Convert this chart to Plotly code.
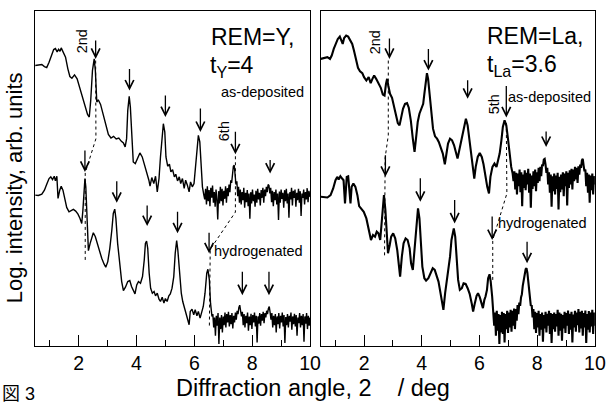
import plotly.graph_objects as go

# ---------------- REM = Y, t_Y = 4  (2-theta in deg, log intensity in arb. units) ----------------
Y_ASDEP = [
    (0.50, 8.43), (0.61, 8.45), (0.73, 8.46), (0.82, 8.40), (0.90, 8.37), (0.98, 8.53), (1.07, 8.78),
    (1.14, 8.91), (1.20, 8.94), (1.26, 8.84), (1.31, 8.92), (1.36, 8.86), (1.40, 8.96), (1.47, 8.83),
    (1.55, 8.68), (1.63, 8.33), (1.70, 8.10), (1.77, 8.05), (1.86, 8.15), (1.95, 8.03), (2.04, 7.78),
    (2.14, 7.46), (2.23, 7.18), (2.31, 6.96), (2.37, 6.88), (2.42, 7.38), (2.48, 8.28), (2.54, 8.63),
    (2.58, 8.28), (2.63, 7.33), (2.68, 7.40), (2.76, 7.26), (2.85, 6.96), (2.94, 6.63), (3.03, 6.36),
    (3.12, 6.25), (3.21, 6.30), (3.30, 6.22), (3.39, 6.25), (3.48, 6.15), (3.55, 6.10), (3.61, 5.98),
    (3.66, 6.23), (3.70, 7.08), (3.75, 7.50), (3.79, 7.18), (3.84, 6.08), (3.89, 5.53), (3.96, 5.48),
    (4.03, 5.63), (4.12, 5.80), (4.20, 5.68), (4.28, 5.46), (4.36, 5.18), (4.43, 4.98), (4.47, 4.80),
    (4.53, 5.06), (4.60, 4.88), (4.66, 5.10), (4.72, 4.63), (4.78, 5.03), (4.83, 5.68), (4.89, 6.48),
    (4.93, 6.68), (4.98, 6.43), (5.02, 5.68), (5.08, 5.40), (5.14, 5.46), (5.19, 5.23), (5.25, 5.30),
    (5.31, 5.08), (5.36, 5.16), (5.42, 4.96), (5.48, 5.08), (5.53, 4.88), (5.59, 5.03), (5.65, 4.73),
    (5.70, 4.98), (5.76, 4.83), (5.82, 4.63), (5.87, 4.93), (5.93, 4.78), (5.99, 4.88), (6.03, 5.28),
    (6.09, 5.88), (6.14, 6.33), (6.19, 6.13), (6.23, 5.38), (6.28, 4.78), (6.33, 4.53),
    (6.36, 4.40), (6.39, 4.72), (6.42, 4.25), (6.45, 4.80), (6.48, 4.35), (6.51, 4.68), (6.54, 4.20),
    (6.57, 4.75), (6.60, 4.45), (6.63, 4.82), (6.66, 4.30), (6.69, 4.62), (6.72, 4.18), (6.75, 4.70),
    (6.78, 4.40), (6.81, 3.80), (6.84, 4.65), (6.87, 4.28), (6.90, 4.78), (6.93, 4.35), (6.96, 4.72),
    (6.99, 4.22), (7.02, 4.66), (7.05, 4.42), (7.08, 4.80), (7.11, 4.30), (7.14, 4.74), (7.17, 4.50),
    (7.20, 4.85), (7.23, 4.62), (7.26, 4.98), (7.29, 4.90), (7.32, 5.22), (7.35, 5.40), (7.38, 5.43),
    (7.41, 5.18), (7.44, 4.85), (7.47, 4.95), (7.50, 4.50), (7.53, 4.78), (7.56, 4.30), (7.59, 4.70),
    (7.62, 4.25), (7.65, 4.62), (7.68, 4.38), (7.71, 4.75), (7.74, 4.15), (7.77, 4.60), (7.80, 4.32),
    (7.83, 4.68), (7.86, 4.20), (7.89, 4.58), (7.92, 3.82), (7.95, 4.62), (7.98, 4.28), (8.01, 4.70),
    (8.04, 4.35), (8.07, 4.55), (8.10, 4.18), (8.13, 4.66), (8.16, 4.30), (8.19, 4.72), (8.22, 4.40),
    (8.25, 4.60), (8.28, 4.22), (8.31, 4.68), (8.34, 4.45), (8.37, 4.75), (8.40, 4.30), (8.43, 4.70),
    (8.46, 4.50), (8.49, 4.78), (8.52, 4.62), (8.55, 4.85), (8.58, 4.82), (8.61, 4.58), (8.64, 4.75),
    (8.67, 4.32), (8.70, 4.66), (8.73, 4.20), (8.76, 4.62), (8.79, 4.38), (8.82, 4.70), (8.85, 4.25),
    (8.88, 4.58), (8.91, 3.78), (8.94, 4.64), (8.97, 4.30), (9.00, 4.70), (9.03, 4.42), (9.06, 4.60),
    (9.09, 4.15), (9.12, 4.68), (9.15, 4.35), (9.18, 4.72), (9.21, 4.28), (9.24, 4.58), (9.27, 3.85),
    (9.30, 4.62), (9.33, 4.40), (9.36, 4.75), (9.39, 4.22), (9.42, 4.66), (9.45, 4.45), (9.48, 4.70),
    (9.51, 4.18), (9.54, 4.60), (9.57, 4.38), (9.60, 4.72), (9.63, 4.30), (9.66, 4.65), (9.69, 3.90),
    (9.72, 4.58), (9.75, 4.45), (9.78, 4.70), (9.81, 4.25), (9.84, 4.62), (9.87, 4.40), (9.90, 4.74),
    (9.93, 4.32), (9.96, 4.66), (10.00, 4.48),
]

Y_HYDRO = [
    (0.50, 4.53), (0.61, 4.52), (0.73, 4.56), (0.82, 4.68), (0.90, 4.86), (0.98, 5.03), (1.04, 5.08),
    (1.10, 5.00), (1.16, 5.10), (1.20, 4.96), (1.25, 5.10), (1.29, 4.43), (1.35, 4.68), (1.40, 4.80),
    (1.46, 4.68), (1.52, 4.38), (1.59, 4.16), (1.67, 4.03), (1.74, 4.06), (1.82, 4.10), (1.90, 4.05),
    (1.98, 3.96), (2.05, 3.83), (2.11, 3.68), (2.15, 4.08), (2.19, 4.68), (2.22, 5.03), (2.25, 4.78),
    (2.30, 3.58), (2.34, 2.86), (2.40, 3.08), (2.46, 3.30), (2.51, 3.40), (2.58, 3.28), (2.65, 3.08),
    (2.72, 2.83), (2.80, 2.63), (2.88, 2.46), (2.94, 2.36), (3.01, 2.53), (3.08, 2.93), (3.15, 3.48),
    (3.20, 3.98), (3.25, 4.11), (3.29, 3.83), (3.35, 3.08), (3.42, 2.38), (3.49, 1.93), (3.55, 1.66),
    (3.62, 1.76), (3.70, 1.93), (3.77, 1.96), (3.83, 1.78), (3.89, 1.68), (3.95, 1.56), (4.01, 1.83),
    (4.07, 1.93), (4.14, 1.88), (4.21, 2.08), (4.27, 2.58), (4.31, 3.08), (4.35, 3.15), (4.39, 2.93),
    (4.44, 2.18), (4.49, 1.73), (4.55, 1.58), (4.61, 1.63), (4.66, 1.50), (4.72, 1.58), (4.78, 1.40),
    (4.83, 1.33), (4.89, 1.46), (4.95, 1.28), (5.00, 1.42), (5.06, 1.33), (5.12, 1.50), (5.17, 1.56),
    (5.23, 1.73), (5.29, 2.08), (5.34, 2.78), (5.39, 3.16), (5.43, 2.88), (5.49, 2.18), (5.55, 1.58),
    (5.60, 1.33), (5.66, 1.13), (5.71, 1.03), (5.77, 0.78), (5.82, 0.63), (5.86, 1.03), (5.92, 1.10),
    (5.98, 0.93), (6.03, 1.08), (6.09, 0.90), (6.14, 1.03), (6.20, 0.83), (6.26, 1.03), (6.31, 1.18),
    (6.37, 1.58), (6.43, 2.18), (6.47, 2.30), (6.52, 1.98), (6.56, 1.28), (6.61, 0.88),
    (6.64, 0.95), (6.67, 0.55), (6.70, 0.85), (6.73, 0.30), (6.76, 0.90), (6.79, 0.60), (6.82, 0.98),
    (6.85, 0.05), (6.88, 0.85), (6.91, 0.50), (6.94, 0.92), (6.97, 0.40), (7.00, 0.88), (7.03, 0.62),
    (7.06, 1.00), (7.09, 0.55), (7.12, 0.95), (7.15, 0.70), (7.18, 1.02), (7.21, 0.58), (7.24, 0.92),
    (7.27, 0.65), (7.30, 0.98), (7.33, 0.52), (7.36, 0.90), (7.39, 0.70), (7.42, 1.00), (7.45, 0.78),
    (7.48, 1.05), (7.51, 0.95), (7.54, 1.15), (7.57, 1.22), (7.60, 1.05), (7.63, 0.88), (7.66, 1.02),
    (7.69, 0.62), (7.72, 0.95), (7.75, 0.55), (7.78, 0.90), (7.81, 0.68), (7.84, 1.00), (7.87, 0.45),
    (7.90, 0.88), (7.93, 0.62), (7.96, 0.96), (7.99, 0.50), (8.02, 0.92), (8.05, 0.70), (8.08, 1.00),
    (8.11, 0.58), (8.14, 0.90), (8.17, 0.10), (8.20, 0.88), (8.23, 0.66), (8.26, 0.98), (8.29, 0.60),
    (8.32, 0.95), (8.35, 0.75), (8.38, 1.02), (8.41, 0.68), (8.44, 0.98), (8.47, 0.85), (8.50, 1.05),
    (8.53, 0.95), (8.56, 1.12), (8.59, 1.18), (8.62, 1.00), (8.65, 0.78), (8.68, 0.98), (8.71, 0.55),
    (8.74, 0.90), (8.77, 0.62), (8.80, 0.95), (8.83, 0.40), (8.86, 0.88), (8.89, 0.65), (8.92, 0.98),
    (8.95, 0.52), (8.98, 0.90), (9.01, 0.70), (9.04, 1.00), (9.07, 0.58), (9.10, 0.92), (9.13, 0.08),
    (9.16, 0.86), (9.19, 0.62), (9.22, 0.95), (9.25, 0.55), (9.28, 0.90), (9.31, 0.72), (9.34, 1.00),
    (9.37, 0.48), (9.40, 0.88), (9.43, 0.65), (9.46, 0.96), (9.49, 0.58), (9.52, 0.92), (9.55, 0.30),
    (9.58, 0.85), (9.61, 0.68), (9.64, 0.98), (9.67, 0.55), (9.70, 0.90), (9.73, 0.62), (9.76, 0.95),
    (9.79, 0.12), (9.82, 0.88), (9.85, 0.66), (9.88, 0.98), (9.91, 0.50), (9.94, 0.90), (9.97, 0.60),
    (10.00, 0.85),
]

# ---------------- REM = La, t_La = 3.6 ----------------
LA_ASDEP = [
    (0.50, 8.63), (0.61, 8.65), (0.73, 8.68), (0.82, 8.63), (0.88, 8.73), (0.95, 8.93), (1.02, 9.10),
    (1.09, 9.23), (1.16, 9.30), (1.21, 9.18), (1.26, 9.08), (1.31, 9.26), (1.38, 9.33), (1.45, 9.30),
    (1.52, 9.20), (1.59, 9.08), (1.65, 8.88), (1.72, 8.63), (1.79, 8.36), (1.86, 8.26), (1.94, 8.20),
    (2.00, 8.08), (2.08, 7.98), (2.16, 8.08), (2.23, 7.90), (2.29, 8.03), (2.35, 8.13), (2.42, 8.03),
    (2.50, 7.90), (2.58, 7.76), (2.65, 7.56), (2.71, 7.53), (2.76, 7.88), (2.80, 8.03), (2.84, 7.83),
    (2.90, 7.58), (2.97, 7.46), (3.03, 7.23), (3.10, 6.96), (3.17, 6.70), (3.23, 6.63), (3.28, 6.88),
    (3.35, 7.13), (3.42, 7.28), (3.49, 7.30), (3.55, 7.16), (3.62, 6.78), (3.69, 6.23), (3.75, 5.83),
    (3.80, 6.23), (3.86, 6.73), (3.92, 6.98), (3.98, 7.13), (4.05, 7.28), (4.09, 7.58), (4.14, 8.03),
    (4.18, 8.20), (4.22, 8.03), (4.27, 7.58), (4.32, 6.93), (4.39, 6.53), (4.46, 6.30), (4.53, 6.23),
    (4.59, 6.13), (4.66, 5.98), (4.73, 5.78), (4.80, 5.46), (4.86, 5.88), (4.91, 6.08), (4.98, 6.23),
    (5.05, 6.18), (5.12, 6.03), (5.18, 5.78), (5.24, 5.63), (5.30, 5.88), (5.36, 6.13), (5.42, 6.48),
    (5.48, 6.73), (5.53, 6.83), (5.59, 6.63), (5.65, 6.23), (5.70, 5.78), (5.76, 5.33), (5.82, 5.03),
    (5.87, 5.38), (5.94, 5.68), (6.01, 5.80), (6.08, 5.68), (6.14, 5.46), (6.21, 5.08), (6.27, 4.78),
    (6.33, 4.58), (6.38, 5.08), (6.45, 5.38), (6.52, 5.48), (6.59, 5.38), (6.64, 5.53), (6.70, 5.78),
    (6.76, 6.18), (6.81, 6.58), (6.87, 6.78), (6.93, 6.63), (6.98, 6.28), (7.04, 5.78), (7.10, 5.38),
    (7.15, 5.18),
    (7.18, 4.95), (7.21, 5.25), (7.24, 4.70), (7.27, 5.20), (7.30, 4.55), (7.33, 5.18), (7.36, 4.80),
    (7.39, 5.30), (7.42, 4.62), (7.45, 5.22), (7.48, 4.20), (7.51, 5.15), (7.54, 4.75), (7.57, 5.28),
    (7.60, 4.68), (7.63, 5.20), (7.66, 4.85), (7.69, 5.32), (7.72, 4.60), (7.75, 5.18), (7.78, 4.15),
    (7.81, 5.12), (7.84, 4.72), (7.87, 5.25), (7.90, 4.80), (7.93, 5.30), (7.96, 4.65), (7.99, 5.22),
    (8.02, 4.90), (8.05, 5.35), (8.08, 4.95), (8.11, 5.38), (8.14, 5.10), (8.17, 5.45), (8.20, 5.40),
    (8.23, 5.60), (8.26, 5.62), (8.29, 5.45), (8.32, 5.20), (8.35, 5.35), (8.38, 4.85), (8.41, 5.22),
    (8.44, 4.60), (8.47, 5.15), (8.50, 4.18), (8.53, 5.10), (8.56, 4.65), (8.59, 5.18), (8.62, 4.55),
    (8.65, 5.12), (8.68, 4.72), (8.71, 5.20), (8.74, 4.10), (8.77, 5.08), (8.80, 4.62), (8.83, 5.15),
    (8.86, 4.70), (8.89, 5.22), (8.92, 4.50), (8.95, 5.18), (8.98, 4.80), (9.01, 5.25), (9.04, 4.22),
    (9.07, 5.20), (9.10, 4.75), (9.13, 5.28), (9.16, 4.85), (9.19, 5.32), (9.22, 4.70), (9.25, 5.30),
    (9.28, 4.95), (9.31, 5.38), (9.34, 5.00), (9.37, 5.35), (9.40, 4.90), (9.43, 5.40), (9.46, 5.15),
    (9.49, 5.45), (9.52, 5.35), (9.55, 5.58), (9.58, 5.62), (9.61, 5.42), (9.64, 5.25), (9.67, 5.30),
    (9.70, 4.80), (9.73, 5.20), (9.76, 4.60), (9.79, 5.15), (9.82, 4.30), (9.85, 5.12), (9.88, 4.68),
    (9.91, 5.18), (9.94, 4.55), (9.97, 5.10), (10.00, 4.85),
]

LA_HYDRO = [
    (0.50, 4.48), (0.61, 4.48), (0.73, 4.46), (0.84, 4.53), (0.93, 4.73), (1.01, 4.98), (1.07, 5.08),
    (1.12, 5.00), (1.18, 5.10), (1.24, 5.03), (1.29, 4.98), (1.34, 4.28), (1.37, 4.68), (1.40, 5.08),
    (1.45, 5.10), (1.50, 4.68), (1.53, 4.28), (1.57, 4.78), (1.63, 4.88), (1.70, 4.78), (1.77, 4.53),
    (1.83, 4.20), (1.91, 4.10), (1.99, 4.03), (2.08, 3.83), (2.16, 3.53), (2.24, 3.18), (2.31, 3.33),
    (2.38, 3.28), (2.44, 3.43), (2.50, 3.38), (2.56, 3.18), (2.62, 3.78), (2.66, 4.43), (2.69, 4.53),
    (2.74, 4.08), (2.79, 3.28), (2.83, 2.78), (2.89, 3.03), (2.94, 3.28), (3.01, 3.38), (3.08, 3.23),
    (3.15, 2.88), (3.20, 2.38), (3.25, 2.08), (3.31, 2.68), (3.37, 3.08), (3.44, 3.23), (3.51, 3.18),
    (3.58, 2.93), (3.63, 2.48), (3.69, 2.28), (3.75, 2.88), (3.79, 3.48), (3.84, 4.03), (3.87, 4.13),
    (3.92, 3.83), (3.96, 3.08), (4.02, 2.38), (4.09, 2.03), (4.15, 1.96), (4.23, 2.03), (4.31, 2.18),
    (4.38, 2.33), (4.45, 2.28), (4.52, 2.10), (4.58, 1.93), (4.65, 1.58), (4.71, 1.23), (4.75, 1.08),
    (4.81, 1.58), (4.87, 1.93), (4.92, 2.28), (4.98, 2.68), (5.03, 3.18), (5.08, 3.48), (5.11, 3.53),
    (5.16, 3.28), (5.20, 2.58), (5.26, 1.98), (5.32, 1.68), (5.39, 1.73), (5.45, 1.88), (5.52, 1.86),
    (5.59, 1.73), (5.66, 1.56), (5.73, 1.28), (5.78, 1.03), (5.84, 1.28), (5.90, 1.50), (5.95, 1.58),
    (6.01, 1.46), (6.07, 1.28), (6.12, 1.13), (6.17, 1.38), (6.21, 1.48), (6.26, 1.68), (6.30, 2.03),
    (6.35, 2.15), (6.39, 1.93), (6.44, 1.48), (6.48, 1.08),
    (6.51, 0.60), (6.54, 1.00), (6.57, 0.30), (6.60, 1.05), (6.63, 0.45), (6.66, 0.95), (6.69, 0.05),
    (6.72, 0.92), (6.75, 0.40), (6.78, 1.02), (6.81, 0.35), (6.84, 0.98), (6.87, 0.10), (6.90, 0.95),
    (6.93, 0.50), (6.96, 1.05), (6.99, 0.38), (7.02, 1.00), (7.05, 0.55), (7.08, 1.08), (7.11, 0.42),
    (7.14, 1.05), (7.17, 0.60), (7.20, 1.12), (7.23, 0.50), (7.26, 1.10), (7.29, 0.75), (7.32, 1.22),
    (7.35, 0.95), (7.38, 1.30), (7.41, 1.20), (7.44, 1.45), (7.47, 1.55), (7.50, 1.80), (7.53, 1.95),
    (7.56, 2.15), (7.60, 2.30), (7.63, 2.33), (7.66, 2.20), (7.69, 1.95), (7.72, 1.65), (7.75, 1.45),
    (7.78, 1.20), (7.81, 1.22), (7.84, 0.85), (7.87, 1.10), (7.90, 0.50), (7.93, 1.02), (7.96, 0.38),
    (7.99, 0.98), (8.02, 0.55), (8.05, 1.05), (8.08, 0.30), (8.11, 0.95), (8.14, 0.48), (8.17, 1.00),
    (8.20, 0.12), (8.23, 0.92), (8.26, 0.52), (8.29, 1.02), (8.32, 0.40), (8.35, 0.96), (8.38, 0.60),
    (8.41, 1.05), (8.44, 0.35), (8.47, 0.98), (8.50, 0.08), (8.53, 0.95), (8.56, 0.50), (8.59, 1.00),
    (8.62, 0.42), (8.65, 0.95), (8.68, 0.58), (8.71, 1.08), (8.74, 0.30), (8.77, 1.00), (8.80, 0.45),
    (8.83, 0.96), (8.86, 0.15), (8.89, 0.92), (8.92, 0.52), (8.95, 1.02), (8.98, 0.38), (9.01, 0.98),
    (9.04, 0.60), (9.07, 1.06), (9.10, 0.35), (9.13, 0.96), (9.16, 0.48), (9.19, 1.02), (9.22, 0.10),
    (9.25, 0.94), (9.28, 0.55), (9.31, 1.05), (9.34, 0.42), (9.37, 1.00), (9.40, 0.62), (9.43, 1.10),
    (9.46, 0.40), (9.49, 1.02), (9.52, 0.52), (9.55, 1.05), (9.58, 0.30), (9.61, 0.98), (9.64, 0.55),
    (9.67, 1.06), (9.70, 0.08), (9.73, 0.95), (9.76, 0.48), (9.79, 1.04), (9.82, 0.40), (9.85, 1.00),
    (9.88, 0.58), (9.91, 1.08), (9.94, 0.35), (9.97, 1.00), (10.00, 0.60),
]

# Superlattice reflections: angle (deg) and level of the arrow tip
Y_ASDEP_REFL_X = [2.59, 3.76, 5.00, 6.21, 7.42, 8.62]
Y_ASDEP_REFL_Y = [8.63, 7.68, 6.88, 6.43, 5.76, 5.18]
Y_HYDRO_REFL_X = [2.22, 3.32, 4.37, 5.42, 6.51, 7.66, 8.58]
Y_HYDRO_REFL_Y = [5.23, 4.30, 3.60, 3.38, 2.78, 1.52, 1.52]
LA_ASDEP_REFL_X = [2.88, 4.23, 5.59, 6.93, 8.31]
LA_ASDEP_REFL_Y = [8.63, 8.28, 7.43, 6.87, 5.98]
LA_HYDRO_REFL_X = [2.74, 3.95, 5.14, 6.44, 7.65]
LA_HYDRO_REFL_Y = [5.08, 4.33, 3.68, 3.18, 2.48]

# Dotted guides linking the same reflection order before/after hydrogenation
Y_ORDER2_GUIDE = [(2.59, 8.58), (2.60, 6.23), (2.23, 5.20), (2.23, 2.58)]
Y_ORDER6_GUIDE = [(7.42, 5.70), (7.42, 4.02), (6.55, 2.90), (6.52, 0.57)]
LA_ORDER2_GUIDE = [(2.84, 8.58), (2.84, 6.33), (2.73, 5.65), (2.71, 2.64)]
LA_ORDER5_GUIDE = [(6.93, 6.70), (6.95, 4.58), (6.46, 3.18), (6.46, 1.98)]

X_MAJOR = [2, 4, 6, 8, 10]
X_MINOR = [1, 3, 5, 7, 9]

# arrow shaft lengths in px
Y_ASDEP_ARROW_LEN = [20, 23, 23, 25, 24, 15]
Y_HYDRO_ARROW_LEN = [23, 23, 22, 23, 22, 25, 25]
LA_ASDEP_ARROW_LEN = [22, 23, 20, 33, 17]
LA_HYDRO_ARROW_LEN = [23, 25, 25, 25, 23]

FONT = "Liberation Sans, Arial, sans-serif"
BLACK = "#000000"

fig = go.Figure()


def add_curve(points, xa, ya, width):
    xs, ys = zip(*points)
    fig.add_trace(go.Scatter(x=xs, y=ys, mode="lines", xaxis=xa, yaxis=ya,
                             line=dict(color=BLACK, width=width), hoverinfo="skip"))


def add_guide(points, xa, ya):
    xs, ys = zip(*points)
    fig.add_trace(go.Scatter(x=xs, y=ys, mode="lines", xaxis=xa, yaxis=ya,
                             line=dict(color=BLACK, width=1, dash="dot"), hoverinfo="skip"))


add_curve(Y_ASDEP, "x", "y", 1.4)
add_curve(Y_HYDRO, "x", "y", 1.4)
add_curve(LA_ASDEP, "x2", "y2", 2.1)
add_curve(LA_HYDRO, "x2", "y2", 2.1)
add_guide(Y_ORDER2_GUIDE, "x", "y")
add_guide(Y_ORDER6_GUIDE, "x", "y")
add_guide(LA_ORDER2_GUIDE, "x2", "y2")
add_guide(LA_ORDER5_GUIDE, "x2", "y2")

annotations = []


def add_arrows(xs, ys, lens, xref, yref):
    for x, y, L in zip(xs, ys, lens):
        annotations.append(dict(x=x, y=y, xref=xref, yref=yref, ax=0, ay=-L, text="",
                                showarrow=True, arrowhead=5, arrowsize=1.3, arrowwidth=1.3,
                                arrowcolor=BLACK, standoff=0))


add_arrows(Y_ASDEP_REFL_X, Y_ASDEP_REFL_Y, Y_ASDEP_ARROW_LEN, "x", "y")
add_arrows(Y_HYDRO_REFL_X, Y_HYDRO_REFL_Y, Y_HYDRO_ARROW_LEN, "x", "y")
add_arrows(LA_ASDEP_REFL_X, LA_ASDEP_REFL_Y, LA_ASDEP_ARROW_LEN, "x2", "y2")
add_arrows(LA_HYDRO_REFL_X, LA_HYDRO_REFL_Y, LA_HYDRO_ARROW_LEN, "x2", "y2")


def label(text, x, y, xref, yref, size, xanchor="center", angle=0):
    annotations.append(dict(text=text, x=x, y=y, xref=xref, yref=yref, showarrow=False,
                            xanchor=xanchor, yanchor="middle", textangle=angle,
                            font=dict(family=FONT, size=size, color=BLACK)))


# panel captions
label("REM=Y,", 6.50, 9.29, "x", "y", 23, "left")
label("t<sub>Y</sub>=4", 6.47, 8.39, "x", "y", 23, "left")
label("as-deposited", 9.86, 7.64, "x", "y", 14.5, "right")
label("hydrogenated", 9.83, 2.84, "x", "y", 14.5, "right")
label("2nd", 2.12, 9.16, "x", "y", 14.5, angle=-90)
label("6th", 7.01, 6.44, "x", "y", 14.5, angle=-90)

label("REM=La,", 6.19, 9.32, "x2", "y2", 23, "left")
label("t<sub>La</sub>=3.6", 6.19, 8.42, "x2", "y2", 23, "left")
label("as-deposited", 9.93, 7.49, "x2", "y2", 14.5, "right")
label("hydrogenated", 9.79, 3.70, "x2", "y2", 14.5, "right")
label("2nd", 2.38, 9.13, "x2", "y2", 14.5, angle=-90)
label("5th", 6.49, 7.25, "x2", "y2", 14.5, angle=-90)

# shared axis titles and figure number
label("Log. intensity, arb. units", 15 / 616, 1 - 187.5 / 403, "paper", "paper", 22, angle=-90)
label("Diffraction angle, 2\u00a0\u00a0\u00a0\u00a0/ deg", 319 / 616, 1 - 388 / 403, "paper", "paper", 23.5)
annotations.append(dict(text="図 3", x=0, y=1 - 394 / 403, xref="paper", yref="paper",
                        showarrow=False, xanchor="left", yanchor="middle",
                        font=dict(family="Liberation Sans, Noto Sans CJK JP", size=18, color=BLACK)))

y_dom = [(403 - 345.7) / 403, (403 - 10.7) / 403]

xaxis_common = dict(range=[0.5, 10.0], showline=True, linecolor=BLACK, linewidth=1.3, mirror=True,
                    showgrid=False, zeroline=False, ticks="inside", ticklen=11, tickwidth=1.2,
                    tickcolor=BLACK, tickvals=X_MAJOR, ticktext=[str(v) for v in X_MAJOR],
                    tickfont=dict(family=FONT, size=19.5, color=BLACK),
                    minor=dict(tickvals=X_MINOR, ticks="inside", ticklen=6, tickwidth=1.2,
                               tickcolor=BLACK, showgrid=False))
yaxis_common = dict(range=[0, 10.08], showline=True, linecolor=BLACK, linewidth=1.3, mirror=True,
                    showgrid=False, zeroline=False, ticks="", showticklabels=False)

fig.update_layout(
    width=616, height=403,
    margin=dict(l=0, r=0, t=0, b=0),
    paper_bgcolor="white", plot_bgcolor="white",
    showlegend=False,
    xaxis=dict(domain=[35.8 / 616, 315.7 / 616], anchor="y", **xaxis_common),
    yaxis=dict(domain=y_dom, anchor="x", **yaxis_common),
    xaxis2=dict(domain=[326.6 / 616, 605.7 / 616], anchor="y2", **xaxis_common),
    yaxis2=dict(domain=y_dom, anchor="x2", **yaxis_common),
    annotations=annotations,
)

fig.write_html("out.html")
